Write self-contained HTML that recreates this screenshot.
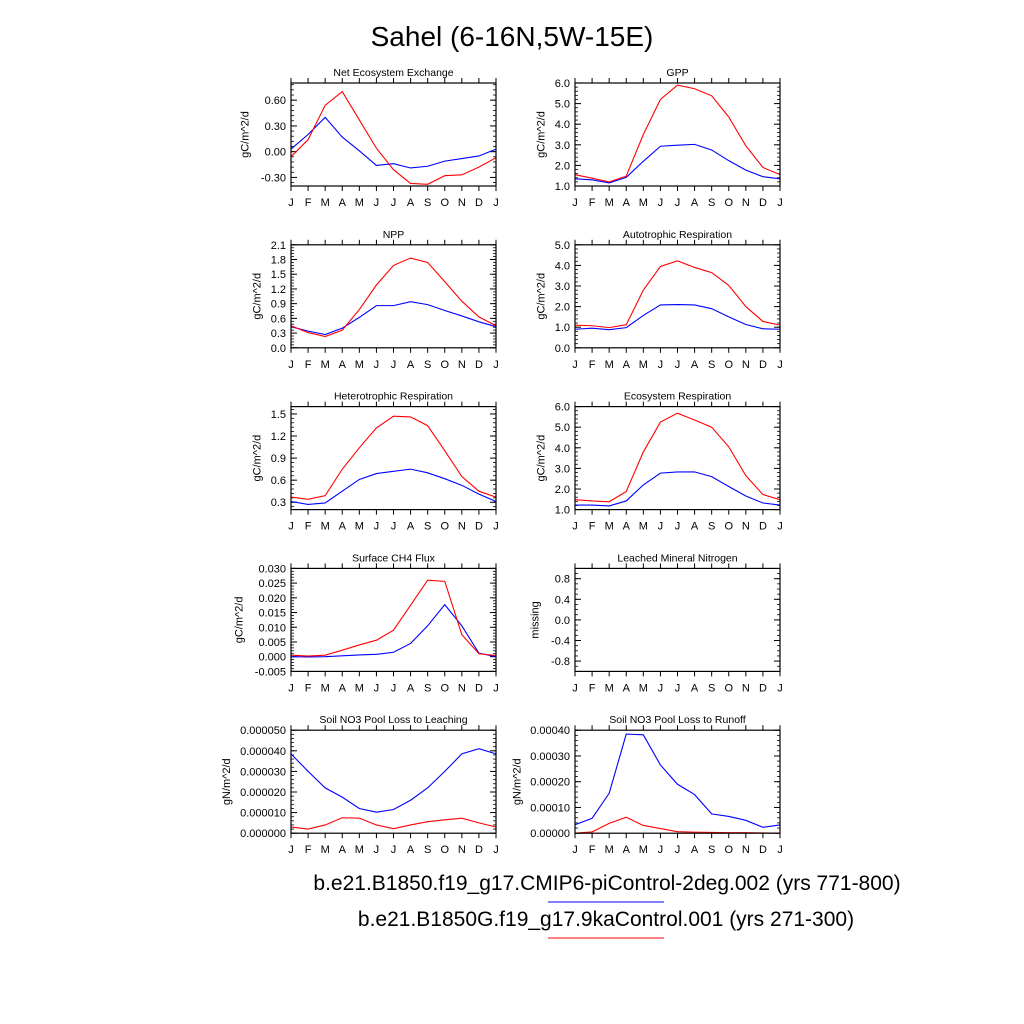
<!DOCTYPE html>
<html><head><meta charset="utf-8">
<style>
html,body{margin:0;padding:0;background:#fff;}
svg{display:block;font-family:"Liberation Sans",sans-serif;}
</style></head>
<body>
<svg id="fig" width="1024" height="1024" viewBox="0 0 1024 1024">
<text x="512" y="46" text-anchor="middle" font-size="28">Sahel (6-16N,5W-15E)</text>
<text x="607" y="890" text-anchor="middle" font-size="21">b.e21.B1850.f19_g17.CMIP6-piControl-2deg.002 (yrs 771-800)</text>
<line x1="548" y1="902" x2="664" y2="902" stroke="#00f" stroke-width="1"/>
<text x="606" y="926" text-anchor="middle" font-size="21">b.e21.B1850G.f19_g17.9kaControl.001 (yrs 271-300)</text>
<line x1="548" y1="938" x2="664" y2="938" stroke="#f00" stroke-width="1"/>
</svg>
<script>
const months = ["J","F","M","A","M","J","J","A","S","O","N","D","J"];
const titles = ["Net Ecosystem Exchange","GPP","NPP","Autotrophic Respiration","Heterotrophic Respiration","Ecosystem Respiration","Surface CH4 Flux","Leached Mineral Nitrogen","Soil NO3 Pool Loss to Leaching","Soil NO3 Pool Loss to Runoff"];
const ylabels = ["gC/m^2/d","gC/m^2/d","gC/m^2/d","gC/m^2/d","gC/m^2/d","gC/m^2/d","gC/m^2/d","missing","gN/m^2/d","gN/m^2/d"];
const yranges = [[-0.4,0.8],[1,6],[0,2.1],[0,5],[0.2,1.6],[1,6],[-0.005,0.03],[-1,1],[0,0.00005],[0,0.0004]];
const yticks = [[-0.3,0,0.3,0.6],[1,2,3,4,5,6],[0,0.3,0.6,0.9,1.2,1.5,1.8,2.1],[0,1,2,3,4,5],[0.3,0.6,0.9,1.2,1.5],[1,2,3,4,5,6],[-0.005,0,0.005,0.01,0.015,0.02,0.025,0.03],[-0.8,-0.4,0,0.4,0.8],[0,0.00001,0.00002,0.00003,0.00004,0.00005],[0,0.0001,0.0002,0.0003,0.0004]];
const ytickLabels = [["-0.30","0.00","0.30","0.60"],["1.0","2.0","3.0","4.0","5.0","6.0"],["0.0","0.3","0.6","0.9","1.2","1.5","1.8","2.1"],["0.0","1.0","2.0","3.0","4.0","5.0"],["0.3","0.6","0.9","1.2","1.5"],["1.0","2.0","3.0","4.0","5.0","6.0"],["-0.005","0.000","0.005","0.010","0.015","0.020","0.025","0.030"],["-0.8","-0.4","0.0","0.4","0.8"],["0.000000","0.000010","0.000020","0.000030","0.000040","0.000050"],["0.00000","0.00010","0.00020","0.00030","0.00040"]];
const yminor = [0.06,0.2,0.06,0.2,0.06,0.2,0.001,0.1,0.000002,0.00002];
const bluePI = [
[0.03,0.20,0.40,0.17,0.01,-0.16,-0.14,-0.19,-0.17,-0.11,-0.08,-0.05,0.03],
[1.35,1.30,1.15,1.42,2.20,2.93,2.98,3.02,2.75,2.23,1.77,1.45,1.35],
[0.43,0.34,0.27,0.40,0.62,0.86,0.86,0.94,0.88,0.76,0.65,0.53,0.43],
[0.90,0.95,0.88,0.98,1.57,2.08,2.10,2.08,1.90,1.50,1.13,0.92,0.90],
[0.31,0.27,0.29,0.45,0.61,0.69,0.72,0.75,0.70,0.62,0.53,0.41,0.31],
[1.22,1.22,1.18,1.42,2.20,2.77,2.83,2.83,2.60,2.12,1.66,1.32,1.22],
[0,-0.0001,0,0.0003,0.0006,0.0008,0.0015,0.0045,0.0105,0.0177,0.0105,0.0012,0],
[],
[0.0000385,0.000030,0.000022,0.0000175,0.000012,0.0000102,0.0000115,0.000016,0.000022,0.000030,0.0000385,0.000041,0.0000385],
[0.000033,0.000058,0.000155,0.000385,0.000382,0.000265,0.00019,0.00015,0.000075,0.000065,0.00005,0.000023,0.000032]
];
const red9ka = [
[-0.06,0.14,0.54,0.70,0.37,0.04,-0.21,-0.37,-0.38,-0.28,-0.27,-0.18,-0.07],
[1.55,1.38,1.20,1.48,3.50,5.20,5.90,5.72,5.38,4.35,2.95,1.90,1.55],
[0.45,0.31,0.23,0.36,0.78,1.28,1.68,1.83,1.74,1.35,0.95,0.63,0.45],
[1.10,1.07,0.98,1.12,2.80,3.95,4.22,3.90,3.65,3.03,2.00,1.28,1.10],
[0.37,0.34,0.39,0.75,1.04,1.31,1.47,1.46,1.34,1.00,0.65,0.45,0.37],
[1.48,1.42,1.38,1.88,3.80,5.25,5.68,5.35,5.00,4.05,2.65,1.73,1.48],
[0.0005,0.0002,0.0005,0.0022,0.004,0.0056,0.009,0.0175,0.026,0.0256,0.0075,0.001,0.0004],
[],
[0.000003,0.000002,0.000004,0.0000075,0.0000073,0.000004,0.0000022,0.000004,0.0000056,0.0000065,0.0000073,0.000005,0.000003],
[0,0.000005,0.000038,0.000062,0.00003,0.000018,0.000006,0.000004,0.000003,0.000002,0.000002,0.000001,0]
];
const NS="http://www.w3.org/2000/svg";
const svg=document.getElementById('fig');
function mk(tag,attrs,parent){const e=document.createElementNS(NS,tag);for(const k in attrs)e.setAttribute(k,attrs[k]);(parent||svg).appendChild(e);return e;}
const W=205,H=103;
for(let p=0;p<10;p++){
  const col=p%2,row=Math.floor(p/2);
  const x0=col?575:291, y0=83+row*161.8;
  const g=mk('g',{});
  
  
  const [ymin,ymax]=yranges[p];
  const sx=i=>x0+i*W/12;
  const sy=v=>y0+H-(v-ymin)/(ymax-ymin)*H;
  const t=mk('text',{x:x0+W/2,y:y0-7,'text-anchor':'middle','font-size':10.5},g);t.textContent=titles[p];
  
  
  const step=yminor[p];
  for(let k=Math.ceil(ymin/step-1e-6);k*step<=ymax+1e-12;k++){
    const yy=sy(k*step);
    mk('line',{x1:x0,x2:x0+3,y1:yy,y2:yy,stroke:'#000','stroke-width':0.8},g);
    mk('line',{x1:x0+W,x2:x0+W-3,y1:yy,y2:yy,stroke:'#000','stroke-width':0.8},g);
  }
  yticks[p].forEach((v,i)=>{
    const yy=sy(v);
    mk('line',{x1:x0,x2:x0+6,y1:yy,y2:yy,stroke:'#000','stroke-width':1},g);
    mk('line',{x1:x0+W,x2:x0+W-6,y1:yy,y2:yy,stroke:'#000','stroke-width':1},g);
    const tl=mk('text',{x:x0-5,y:yy+4,'text-anchor':'end','font-size':11},g);tl.textContent=ytickLabels[p][i];
    
    
  });
  months.forEach((m,i)=>{
    const xx=sx(i);
    mk('line',{x1:xx,x2:xx,y1:y0,y2:y0-5,stroke:'#000','stroke-width':1},g);
    mk('line',{x1:xx,x2:xx,y1:y0+H,y2:y0+H+5,stroke:'#000','stroke-width':1},g);
    const tl=mk('text',{x:xx,y:y0+H+20,'text-anchor':'middle','font-size':11},g);tl.textContent=m;
    
    
  });
  const lw=Math.max(...ytickLabels[p].map(s=>s.length));
  const lx=x0-12-lw*6.1;
  const yl=mk('text',{x:lx,y:y0+H/2,'text-anchor':'middle','font-size':11,transform:`rotate(-90 ${lx} ${y0+H/2})`},g);yl.textContent=ylabels[p];
  
  
  [[bluePI[p],'#00f','series-picontrol'],[red9ka[p],'#f00','series-9ka']].forEach(([d,c,n])=>{
    if(!d.length)return;
    const pl=mk('polyline',{points:d.map((v,i)=>sx(i)+','+sy(v)).join(' '),fill:'none',stroke:c,'stroke-width':1.1},g);
    
    
  });
  const r=mk('rect',{x:x0,y:y0,width:W,height:H,fill:'none',stroke:'#000','stroke-width':1.2},g);
  
  
}
</script>
</body></html>
